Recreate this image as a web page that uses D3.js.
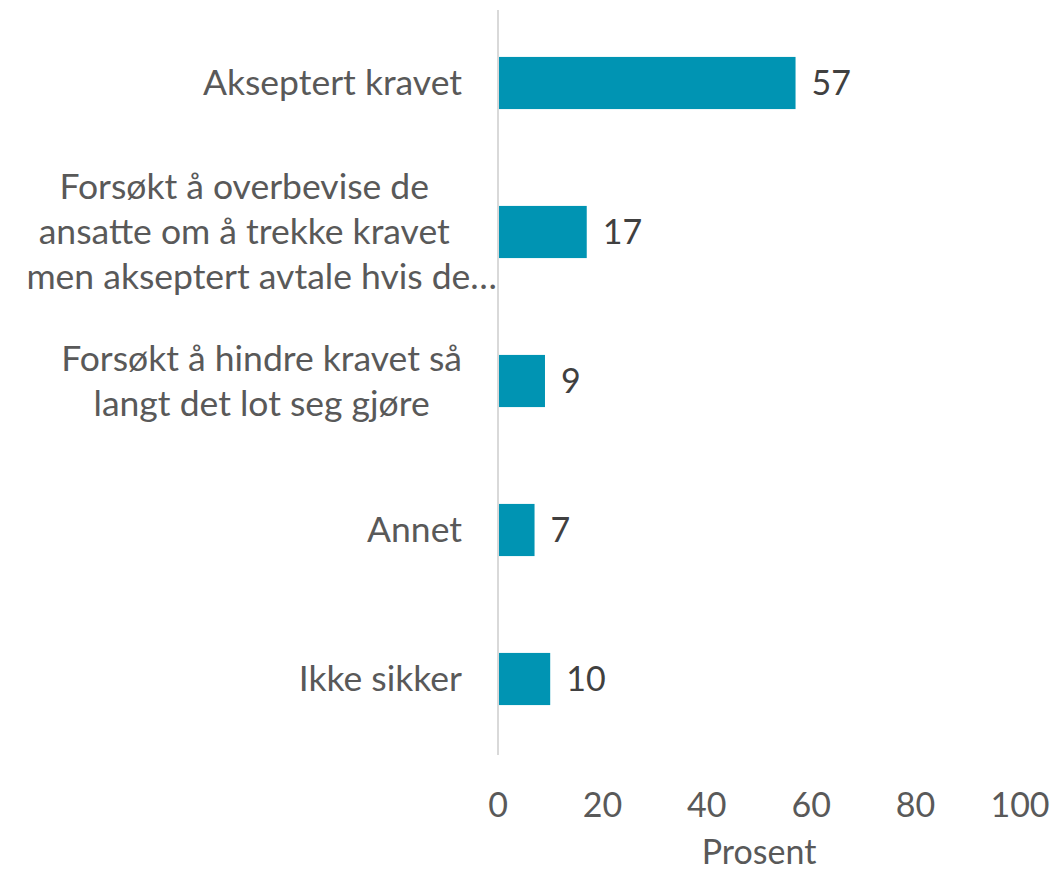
<!DOCTYPE html>
<html>
<head>
<meta charset="utf-8">
<script src="https://cdn.jsdelivr.net/npm/d3@7"></script>
<style>
  body { margin: 0; background: #fff; }
  text { font-family: Lato, "Open Sans", sans-serif; }
</style>
</head>
<body>
<svg id="chart" width="1051" height="874"></svg>
<script>
// data
const kategorier = [
    ["Akseptert kravet"],
    ["Forsøkt å overbevise de", "ansatte om å trekke kravet", "men akseptert avtale hvis de…"],
    ["Forsøkt å hindre kravet så", "langt det lot seg gjøre"],
    ["Annet"],
    ["Ikke sikker"]
];
const verdier = [57, 17, 9, 7, 10];
const ticks = [0, 20, 40, 60, 80, 100];

const svg = d3.select("#chart");

const x = d3.scaleLinear().domain([0, 100]).range([498, 1020]);
const y = d3.scaleBand()
    .domain(d3.range(verdier.length))
    .range([8.5, 753.5])
    .paddingInner(0.65)
    .paddingOuter(0.325);

const fontSize = 34;
const labelSize = 35.5;
const linjeHoyde = 45;
const labelHoyre = 462;

// stolper
svg.append("g")
    .selectAll("rect")
    .data(verdier)
    .enter()
    .append("rect")
    .attr("x", x(0))
    .attr("y", (d, i) => y(i))
    .attr("width", d => x(d) - x(0))
    .attr("height", y.bandwidth())
    .attr("fill", "#0094b3");

// aksen
svg.append("line")
    .attr("x1", x(0)).attr("x2", x(0))
    .attr("y1", 10).attr("y2", 755)
    .attr("stroke", "#d9d9d9")
    .attr("stroke-width", 2);

// verdietiketter
svg.append("g")
    .selectAll("text")
    .data(verdier)
    .enter()
    .append("text")
    .attr("x", d => x(d) + 16)
    .attr("y", (d, i) => y(i) + y.bandwidth() / 2)
    .attr("dy", "0.35em")
    .style("font-size", fontSize + "px")
    .style("fill", "#404040")
    .text(d => d);

// kategorietiketter, linjene sentrert i en høyrejustert blokk
const labelG = svg.append("g");
kategorier.forEach((linjer, i) => {
    const midt = y(i) + y.bandwidth() / 2;
    const start = midt - (linjer.length - 1) * linjeHoyde / 2;

    // mål bredden på linjene
    const maal = linjer.map(l => {
        const t = labelG.append("text").style("font-size", labelSize + "px").text(l);
        const w = t.node().getComputedTextLength();
        t.remove();
        return w;
    });

    let venstre = labelHoyre - d3.max(maal);
    const avkortet = linjer.findIndex(l => l.endsWith("…"));
    if (avkortet >= 0) {
        // avkortet linje går helt ut til aksen
        venstre = x(0) - 1 - maal[avkortet];
    }
    const senter = (venstre + labelHoyre) / 2;

    linjer.forEach((l, j) => {
        const t = labelG.append("text")
            .attr("y", start + j * linjeHoyde)
            .attr("dy", "0.35em")
            .style("font-size", labelSize + "px")
            .style("fill", "#595959")
            .text(l);
        if (j === avkortet) {
            t.attr("x", x(0) - 1).attr("text-anchor", "end");
        } else {
            t.attr("x", senter).attr("text-anchor", "middle");
        }
    });
});

// x-akse etiketter
svg.append("g")
    .selectAll("text")
    .data(ticks)
    .enter()
    .append("text")
    .attr("x", d => x(d))
    .attr("y", 817)
    .attr("text-anchor", "middle")
    .style("font-size", fontSize + "px")
    .style("fill", "#595959")
    .text(d => d);

svg.append("text")
    .attr("x", (x(0) + x(100)) / 2)
    .attr("y", 864)
    .attr("text-anchor", "middle")
    .style("font-size", fontSize + "px")
    .style("fill", "#595959")
    .text("Prosent");
</script>
</body>
</html>
